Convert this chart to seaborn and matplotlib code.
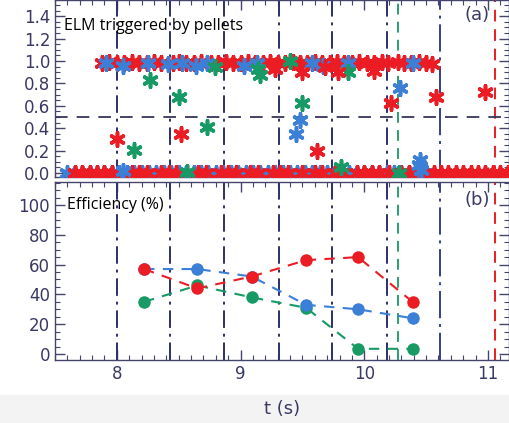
import numpy as np
import pandas as pd
import seaborn as sns
import matplotlib.pyplot as plt
from matplotlib.patches import Rectangle
from matplotlib.ticker import MultipleLocator

# ---- panel (a): ELM triggered by pellets (asterisk scatter) ----
# red strip at ~1
red_top_t = [7.88, 7.94, 8.0, 8.06, 8.12, 8.18, 8.24, 8.3, 8.36, 8.45, 8.5, 8.56, 8.62,
             8.68, 8.76, 8.82, 8.88, 8.94, 9.0, 9.06, 9.12, 9.18, 9.24, 9.3, 9.36, 9.42,
             9.48, 9.54, 9.6, 9.66, 9.72, 9.78, 9.84, 9.9, 9.96, 10.02, 10.08, 10.14,
             10.19, 10.27, 10.32, 10.38, 10.44, 10.5, 10.55]
red_top_y = [0.98, 0.99, 0.98, 0.98, 0.99, 0.98, 0.98, 0.99, 0.98, 0.98, 0.99, 0.98, 0.98,
             0.99, 0.98, 0.98, 0.99, 0.98, 0.98, 0.99, 0.98, 0.98, 0.99, 0.98, 0.98, 0.99,
             0.98, 0.98, 0.99, 0.98, 0.98, 0.99, 0.98, 0.98, 0.99, 0.98, 0.98, 0.99,
             0.98, 0.99, 0.98, 0.98, 0.99, 0.98, 0.97]
# red points off the strips
red_mid_t = [8.0, 8.52, 9.28, 9.5, 9.62, 9.68, 9.79, 10.08, 10.22, 10.58, 10.98]
red_mid_y = [0.30, 0.35, 0.93, 0.90, 0.20, 0.95, 0.90, 0.91, 0.63, 0.68, 0.72]
# red strip at 0
red_bot_t = [7.66, 7.72, 7.78, 7.84, 7.9, 7.96, 8.12, 8.18, 8.24, 8.36, 8.42, 8.48,
             8.66, 8.72, 8.84, 8.9, 8.96, 9.08, 9.14, 9.26, 9.32, 9.38, 9.5, 9.6,
             9.66, 9.76, 9.82, 9.94, 10.0, 10.06, 10.12, 10.2, 10.3, 10.36, 10.5, 10.56,
             10.62, 10.68, 10.74, 10.8, 10.86, 10.92, 10.98, 11.04, 11.1, 11.16]
red_bot_y = [0.0] * len(red_bot_t)

blue_top_t = [7.91, 8.05, 8.25, 8.41, 8.53, 8.64, 8.73, 9.03, 9.13, 9.58, 9.67, 9.87, 10.39]
blue_top_y = [0.98, 0.96, 0.98, 0.97, 0.98, 0.96, 0.98, 0.96, 0.98, 0.98, 0.96, 0.98, 0.98]
blue_mid_t = [9.45, 9.48, 10.29, 10.45, 10.44, 10.46, 8.05]
blue_mid_y = [0.35, 0.47, 0.76, 0.12, 0.07, 0.03, 0.02]
blue_bot_t = [7.6, 7.66, 7.72, 7.78, 7.84, 7.9, 7.96, 8.02, 8.08, 8.14, 8.2, 8.26, 8.32,
              8.38, 8.44, 8.5, 8.56, 8.62, 8.68, 8.74, 8.8, 8.86, 8.92, 8.98, 9.04, 9.1,
              9.16, 9.22, 9.28, 9.34, 9.4, 9.46, 9.52, 9.58, 9.64, 9.7, 9.76, 9.82, 9.88,
              9.94, 10.0, 10.06, 10.12, 10.18, 10.24, 10.3, 10.36, 10.42, 10.48]
blue_bot_y = [0.0] * len(blue_bot_t)

green_t = [8.27, 8.14, 8.50, 8.73, 8.79, 9.14, 9.16, 9.4, 9.50, 9.81, 9.87, 8.57, 10.28]
green_y = [0.83, 0.21, 0.68, 0.41, 0.95, 0.93, 0.875, 1.0, 0.63, 0.05, 0.90, 0.01, 0.0]

# ---- panel (b): efficiency (%) ----
eff_t = [8.22, 8.65, 9.09, 9.53, 9.95, 10.39]
eff_red = [57, 44, 52, 63, 65, 35]
eff_blue = [57, 57, 52, 33, 30, 24]
eff_green = [35, 46, 38, 31, 3.5, 3.5]

# vertical reference lines
navy_lines = [8.0, 8.43, 8.87, 9.31, 9.74, 10.18]
green_line = 10.27
navy_long_line = 10.61
red_line = 11.06

RED = "#ec1c24"
BLUE = "#3b7fd6"
GREEN = "#179a64"
NAVY = "#2d2e6b"
AXC = "#45456b"

sns.set_style("ticks")
plt.rcParams['font.family'] = ['DejaVu Sans']

fig = plt.figure(figsize=(5.1, 4.23), dpi=100)
fig.patches.append(Rectangle((0, 0), 1, 28 / 423, transform=fig.transFigure,
                             color="#f3f3f3", zorder=-1))
ax1 = fig.add_axes([55 / 510, 1 - 177 / 423, 454 / 510, 177 / 423])
ax2 = fig.add_axes([55 / 510, 1 - 360 / 423, 454 / 510, 178 / 423])

ast = (6, 2, 0)
def stars(ax, t, y, c, z):
    sns.scatterplot(x=t, y=y, ax=ax, marker=ast, color=c, edgecolor=c, s=95,
                    linewidth=2.6, zorder=z, legend=False)

stars(ax1, blue_bot_t, blue_bot_y, BLUE, 3)
stars(ax1, red_bot_t, red_bot_y, RED, 4)
stars(ax1, red_top_t, red_top_y, RED, 3)
stars(ax1, blue_top_t, blue_top_y, BLUE, 4)
stars(ax1, green_t, green_y, GREEN, 4)
stars(ax1, blue_mid_t, blue_mid_y, BLUE, 5)
stars(ax1, red_mid_t, red_mid_y, RED, 5)

ax1.axhline(0.5, color="#35355c", lw=1.3, ls=(0, (7, 5)), zorder=2)

eff = pd.DataFrame({"t": eff_t, "red": eff_red, "blue": eff_blue, "green": eff_green})
for col, c, z in [("green", GREEN, 3), ("blue", BLUE, 4), ("red", RED, 5)]:
    sns.lineplot(data=eff, x="t", y=col, ax=ax2, color=c, lw=1.5, ls=(0, (5, 4)),
                 marker="o", markersize=9, markeredgewidth=0, zorder=z)

for ax in (ax1, ax2):
    for x in navy_lines:
        ax.axvline(x, color=NAVY, lw=1.4, ls=(0, (9, 3, 1.5, 3)), zorder=1)
    ax.axvline(green_line, color=GREEN, lw=1.3, ls=(0, (6, 4)), zorder=1)
    ax.axvline(navy_long_line, color="#34408a", lw=1.4, ls=(0, (14, 3, 1.5, 3)), zorder=1)
    ax.axvline(red_line, color=RED, lw=1.4, ls=(0, (6, 4)), zorder=1)
    ax.set_xlim(7.5, 11.17)
    ax.xaxis.set_major_locator(MultipleLocator(1))
    ax.xaxis.set_minor_locator(MultipleLocator(0.1))
    ax.tick_params(which="both", direction="in", top=True, right=True, colors=AXC,
                   labelsize=12, labelcolor="#3a3963")
    ax.tick_params(which="major", length=7, width=1)
    ax.tick_params(which="minor", length=3.5, width=0.8)
    for s in ax.spines.values():
        s.set_color(AXC)
        s.set_linewidth(1.0)
    ax.set_ylabel("")

ax1.set_ylim(-0.035, 1.545)
ax1.yaxis.set_minor_locator(MultipleLocator(0.05))
ax1.set_yticks(np.arange(0, 1.41, 0.2))
ax1.set_yticklabels(["0.0", "0.2", "0.4", "0.6", "0.8", "1.0", "1.2", "1.4"])
ax1.tick_params(labelbottom=False)
ax1.set_xlabel("")

ax2.set_ylim(-4, 115.4)
ax2.set_yticks([0, 20, 40, 60, 80, 100])
ax2.yaxis.set_minor_locator(MultipleLocator(5))
ax2.set_xlabel("t (s)", fontsize=13, color="#3a3963", labelpad=12)

fig.text(64 / 510, 1 - 26 / 423, "ELM triggered by pellets", fontsize=11.5,
         family="Open Sans", color="black", va="center")
fig.text(67 / 510, 1 - 205 / 423, "Efficiency (%)", fontsize=11.5,
         family="Open Sans", color="black", va="center")
ax1.text(0.93, 0.915, "(a)", transform=ax1.transAxes, fontsize=13, color="#3a3963",
         ha="center", va="center")
ax2.text(0.93, 0.9, "(b)", transform=ax2.transAxes, fontsize=13, color="#3a3963",
         ha="center", va="center")

fig.savefig("out.png", dpi=100)
